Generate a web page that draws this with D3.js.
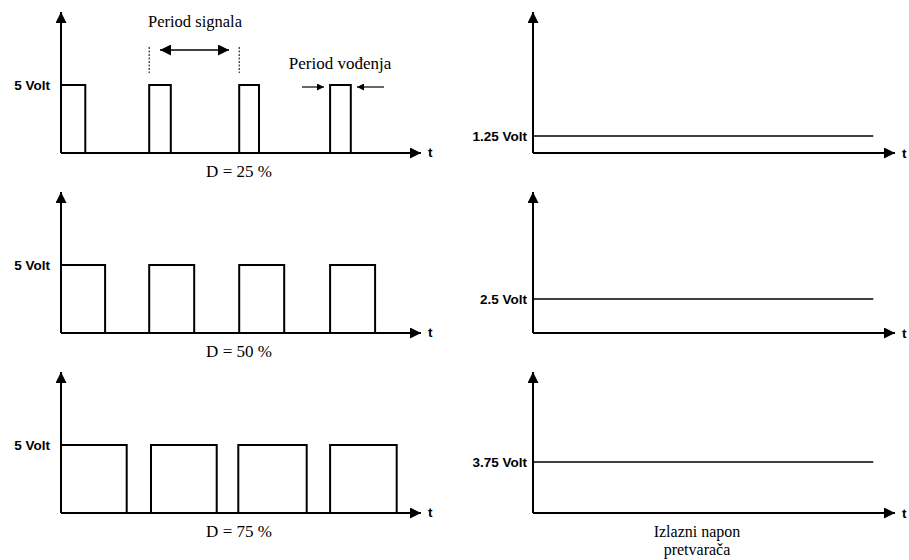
<!DOCTYPE html>
<html>
<head>
<meta charset="utf-8">
<script src="https://cdn.jsdelivr.net/npm/d3@7"></script>
<style>
  body { margin: 0; background: #fff; }
  svg { display: block; }
  .lbl { font-family: "Liberation Sans", Arial, sans-serif; font-weight: bold; font-size: 13.5px; }
  .ser { font-family: "Liberation Serif", "Times New Roman", serif; font-size: 17px; }
</style>
</head>
<body>
<div id="chart"></div>
<script>
// duty cycles and the converter output voltage for each row
var duty_labels = ["D = 25 %", "D = 50 %", "D = 75 %"];
var out_levels = [1.25, 2.5, 3.75];
var out_labels = ["1.25 Volt", "2.5 Volt", "3.75 Volt"];
var high_volt = 5;
var high_label = "5 Volt";

// pulse edges in periods, [rise, fall]
var pulses25 = [[0, 0.27], [0.98, 1.22], [1.98, 2.2], [2.99, 3.22]];
var pulses50 = [[0, 0.49], [0.98, 1.48], [1.98, 2.48], [2.99, 3.49]];
var pulses75 = [[0, 0.73], [1.0, 1.73], [1.97, 2.73], [2.99, 3.73]];
var pulse_rows = [pulses25, pulses50, pulses75];

const width = 909;
const height = 560;

var svg = d3.select("#chart").append("svg")
    .attr("width", width)
    .attr("height", height);

var defs = svg.append("defs");
defs.append("marker")
    .attr("id", "head")
    .attr("viewBox", "0 0 10 10")
    .attr("refX", 10).attr("refY", 5)
    .attr("markerUnits", "userSpaceOnUse")
    .attr("markerWidth", 16).attr("markerHeight", 11)
    .attr("orient", "auto-start-reverse")
    .append("path").attr("d", "M0,0L10,5L0,10Z").attr("fill", "#000");
defs.append("marker")
    .attr("id", "small")
    .attr("viewBox", "0 0 10 10")
    .attr("refX", 10).attr("refY", 5)
    .attr("markerUnits", "userSpaceOnUse")
    .attr("markerWidth", 10).attr("markerHeight", 7)
    .attr("orient", "auto-start-reverse")
    .append("path").attr("d", "M0,0L10,5L0,10Z").attr("fill", "#000");

var baselines = [153, 333, 513];

// left: pwm signal, time in periods
var xl = d3.scaleLinear().domain([0, 4]).range([61, 421]);
// right: output voltage
var xr = d3.scaleLinear().domain([0, 4]).range([533, 895]);

var line = d3.line();

baselines.forEach(function(base, i) {
    var y = d3.scaleLinear().domain([0, high_volt]).range([base, base - 68]);
    var ytop = base - 141;

    // ---- left panel ----
    var g = svg.append("g");
    g.append("path")
        .attr("d", line([[xl(0), base], [xl(0), ytop]]))
        .attr("stroke", "#000").attr("stroke-width", 2).attr("fill", "none")
        .attr("marker-end", "url(#head)");
    g.append("path")
        .attr("d", line([[xl(0), base], [xl(4), base]]))
        .attr("stroke", "#000").attr("stroke-width", 2).attr("fill", "none")
        .attr("marker-end", "url(#head)");

    var pts = [];
    pulse_rows[i].forEach(function(p) {
        pts.push([xl(p[0]), y(0)], [xl(p[0]), y(high_volt)], [xl(p[1]), y(high_volt)], [xl(p[1]), y(0)]);
    });
    g.append("path")
        .attr("d", line(pts))
        .attr("stroke", "#000").attr("stroke-width", 2).attr("fill", "none")
        .attr("stroke-linejoin", "miter");

    g.append("text").attr("class", "lbl")
        .attr("x", 50).attr("y", y(high_volt) + 5)
        .attr("text-anchor", "end").text(high_label);
    g.append("text").attr("class", "lbl")
        .attr("x", 428).attr("y", base + 4).text("t");
    g.append("text").attr("class", "ser")
        .attr("x", 239).attr("y", base + 24)
        .attr("text-anchor", "middle").text(duty_labels[i]);

    // ---- right panel ----
    var r = svg.append("g");
    r.append("path")
        .attr("d", line([[xr(0), base], [xr(0), ytop]]))
        .attr("stroke", "#000").attr("stroke-width", 2).attr("fill", "none")
        .attr("marker-end", "url(#head)");
    r.append("path")
        .attr("d", line([[xr(0), base], [xr(4), base]]))
        .attr("stroke", "#000").attr("stroke-width", 2).attr("fill", "none")
        .attr("marker-end", "url(#head)");
    r.append("path")
        .attr("d", line([[xr(0), y(out_levels[i])], [xr(3.76), y(out_levels[i])]]))
        .attr("stroke", "#000").attr("stroke-width", 1.6).attr("fill", "none");
    r.append("text").attr("class", "lbl")
        .attr("x", 527).attr("y", y(out_levels[i]) + 5)
        .attr("text-anchor", "end").text(out_labels[i]);
    r.append("text").attr("class", "lbl")
        .attr("x", 902).attr("y", base + 5).text("t");
});

// annotations on the first row
var ann = svg.append("g");
[0.98, 1.98].forEach(function(t) {
    ann.append("line")
        .attr("x1", xl(t)).attr("x2", xl(t))
        .attr("y1", 47).attr("y2", 73)
        .attr("stroke", "#000").attr("stroke-width", 1)
        .attr("stroke-dasharray", "2,1.5");
});
ann.append("path")
    .attr("d", line([[160, 50], [229, 50]]))
    .attr("stroke", "#000").attr("stroke-width", 1.3)
    .attr("marker-start", "url(#head)").attr("marker-end", "url(#head)");
ann.append("text").attr("class", "ser").style("font-size", "16.5px")
    .attr("x", 195).attr("y", 27).attr("text-anchor", "middle").text("Period signala");

ann.append("path")
    .attr("d", line([[302, 87], [324, 87]]))
    .attr("stroke", "#000").attr("stroke-width", 1.2)
    .attr("marker-end", "url(#small)");
ann.append("path")
    .attr("d", line([[384, 87], [357, 87]]))
    .attr("stroke", "#000").attr("stroke-width", 1.2)
    .attr("marker-end", "url(#small)");
ann.append("text").attr("class", "ser")
    .attr("x", 340).attr("y", 69).attr("text-anchor", "middle").text("Period vođenja");

svg.append("text").attr("class", "ser").style("font-size", "16px")
    .attr("x", 697).attr("y", 537).attr("text-anchor", "middle").text("Izlazni napon");
svg.append("text").attr("class", "ser").style("font-size", "16px")
    .attr("x", 697).attr("y", 555).attr("text-anchor", "middle").text("pretvarača");
</script>
</body>
</html>
